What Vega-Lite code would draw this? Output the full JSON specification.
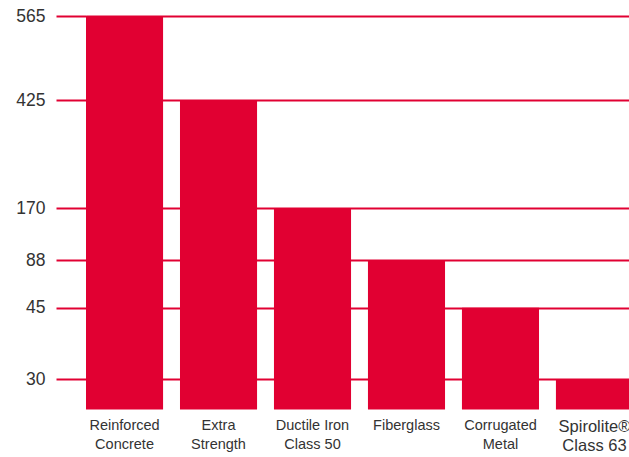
{
  "$schema": "https://vega.github.io/schema/vega-lite/v6.json",
  "autosize": {"type": "none"},
  "width": 543,
  "height": 393.5,
  "padding": {"left": 86, "top": 16, "right": 0, "bottom": 47.5},
  "background": "white",
  "data": {
    "values": [
      {"pipe": "Reinforced|Concrete", "value": 565},
      {"pipe": "Extra|Strength", "value": 425},
      {"pipe": "Ductile Iron|Class 50", "value": 170},
      {"pipe": "Fiberglass", "value": 88},
      {"pipe": "Corrugated|Metal", "value": 45},
      {"pipe": "Spirolite®|Class 63", "value": 30}
    ]
  },
  "mark": {"type": "bar", "color": "#e10032"},
  "encoding": {
    "x": {
      "field": "pipe",
      "type": "nominal",
      "sort": null,
      "scale": {"paddingInner": 0.18, "paddingOuter": 0, "range": [0, 547]},
      "axis": {
        "title": null,
        "domain": false,
        "ticks": false,
        "labelAngle": 0,
        "labelPadding": 9,
        "labelExpr": "split(datum.label, '|')",
        "labelFont": "Liberation Sans",
        "labelFontSize": {"condition": {"test": "indexof(datum.label, 'Spirolite') >= 0", "value": 16.5}, "value": 14.5},
        "labelColor": "#333333",
        "labelLineHeight": 19,
        "labelBaseline": "top"
      }
    },
    "y": {
      "field": "value",
      "type": "quantitative",
      "scale": {
        "domain": [0, 30, 45, 88, 170, 425, 565],
        "range": [393.5, 363.3, 291.7, 244, 192, 84, 0],
        "nice": false,
        "zero": false
      },
      "axis": {
        "title": null,
        "values": [30, 45, 88, 170, 425, 565],
        "domain": false,
        "grid": true,
        "gridColor": "#e10032",
        "gridWidth": 2,
        "gridOpacity": 1,
        "ticks": true,
        "tickSize": 30,
        "tickColor": "#e10032",
        "tickWidth": 2,
        "labelPadding": 11,
        "labelFont": "Liberation Sans",
        "labelFontSize": 17.5,
        "labelColor": "#333333",
        "zindex": 0
      }
    }
  },
  "config": {"view": {"stroke": null}}
}
